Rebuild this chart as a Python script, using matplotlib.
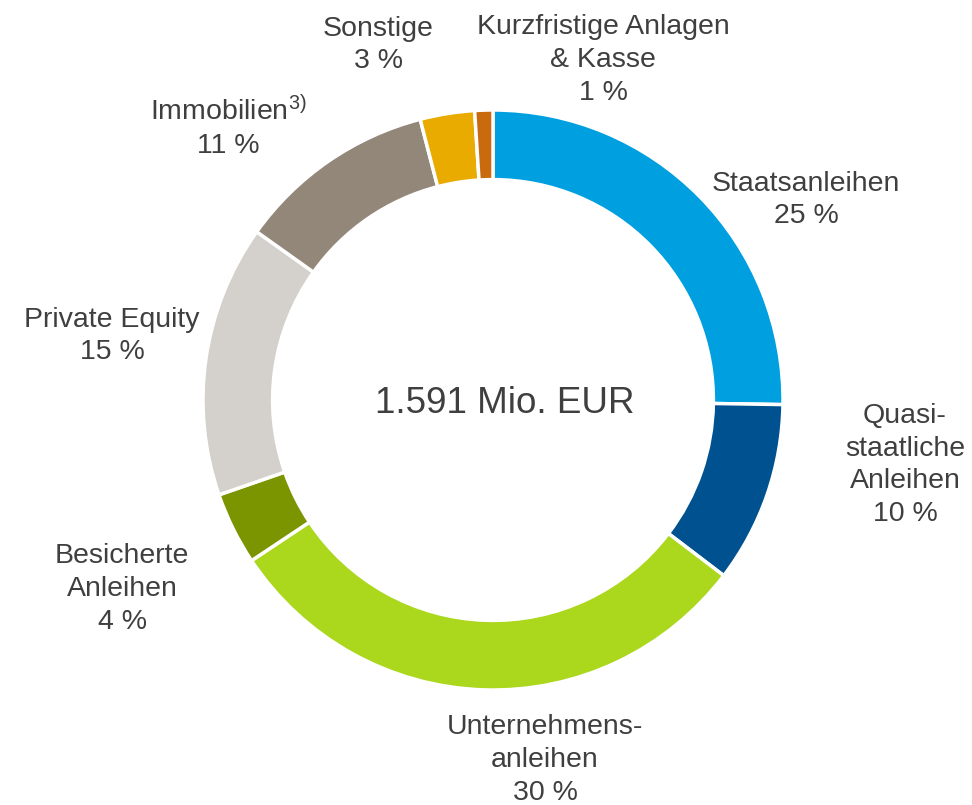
import matplotlib.pyplot as plt

plt.rcParams['font.family'] = ['Liberation Sans', 'DejaVu Sans']
plt.rcParams['mathtext.default'] = 'regular'

# data
categories = ["Staatsanleihen", "Quasi-\nstaatliche\nAnleihen", "Unternehmens-\nanleihen",
              "Besicherte\nAnleihen", "Private Equity", "Immobilien$^{3)}$",
              "Sonstige", "Kurzfristige Anlagen\n& Kasse"]
shares = [25, 10, 30, 4, 15, 11, 3, 1]
colors = ["#009FE0", "#00518F", "#ABD71C", "#7A9500", "#D4D1CC", "#928779", "#E9AB00", "#C96A0E"]
total_label = "1.591 Mio. EUR"

# label positions in pixels of the 972x805 picture (center of text block)
label_px = [(806, 200), (905, 465), (545, 760), (122, 589),
            (112, 336), (228, 127), (378, 45), (603, 60)]

W, H = 972, 805
cx, cy, R = 493, 400, 290

fig = plt.figure(figsize=(W / 100, H / 100), dpi=100)
ax = fig.add_axes([(cx - R) / W, (H - cy - R) / H, 2 * R / W, 2 * R / H])

ax.pie(shares, colors=colors, startangle=90, counterclock=False, radius=1.0,
       wedgeprops=dict(width=0.24, edgecolor="white", linewidth=2.5))
ax.set_xlim(-1, 1)
ax.set_ylim(-1, 1)
ax.set_aspect("equal")
ax.axis("off")

for name, val, (px, py) in zip(categories, shares, label_px):
    ax.text((px - cx) / R, (cy - py) / R, f"{name}\n{val} %", ha="center", va="center",
            fontsize=20.5, color="#3F3F3F", linespacing=1.33, clip_on=False)

ax.text((505 - cx) / R, (cy - 403) / R, total_label, ha="center", va="center",
        fontsize=26.5, color="#3F3F3F")

fig.savefig("out.png", dpi=100)
